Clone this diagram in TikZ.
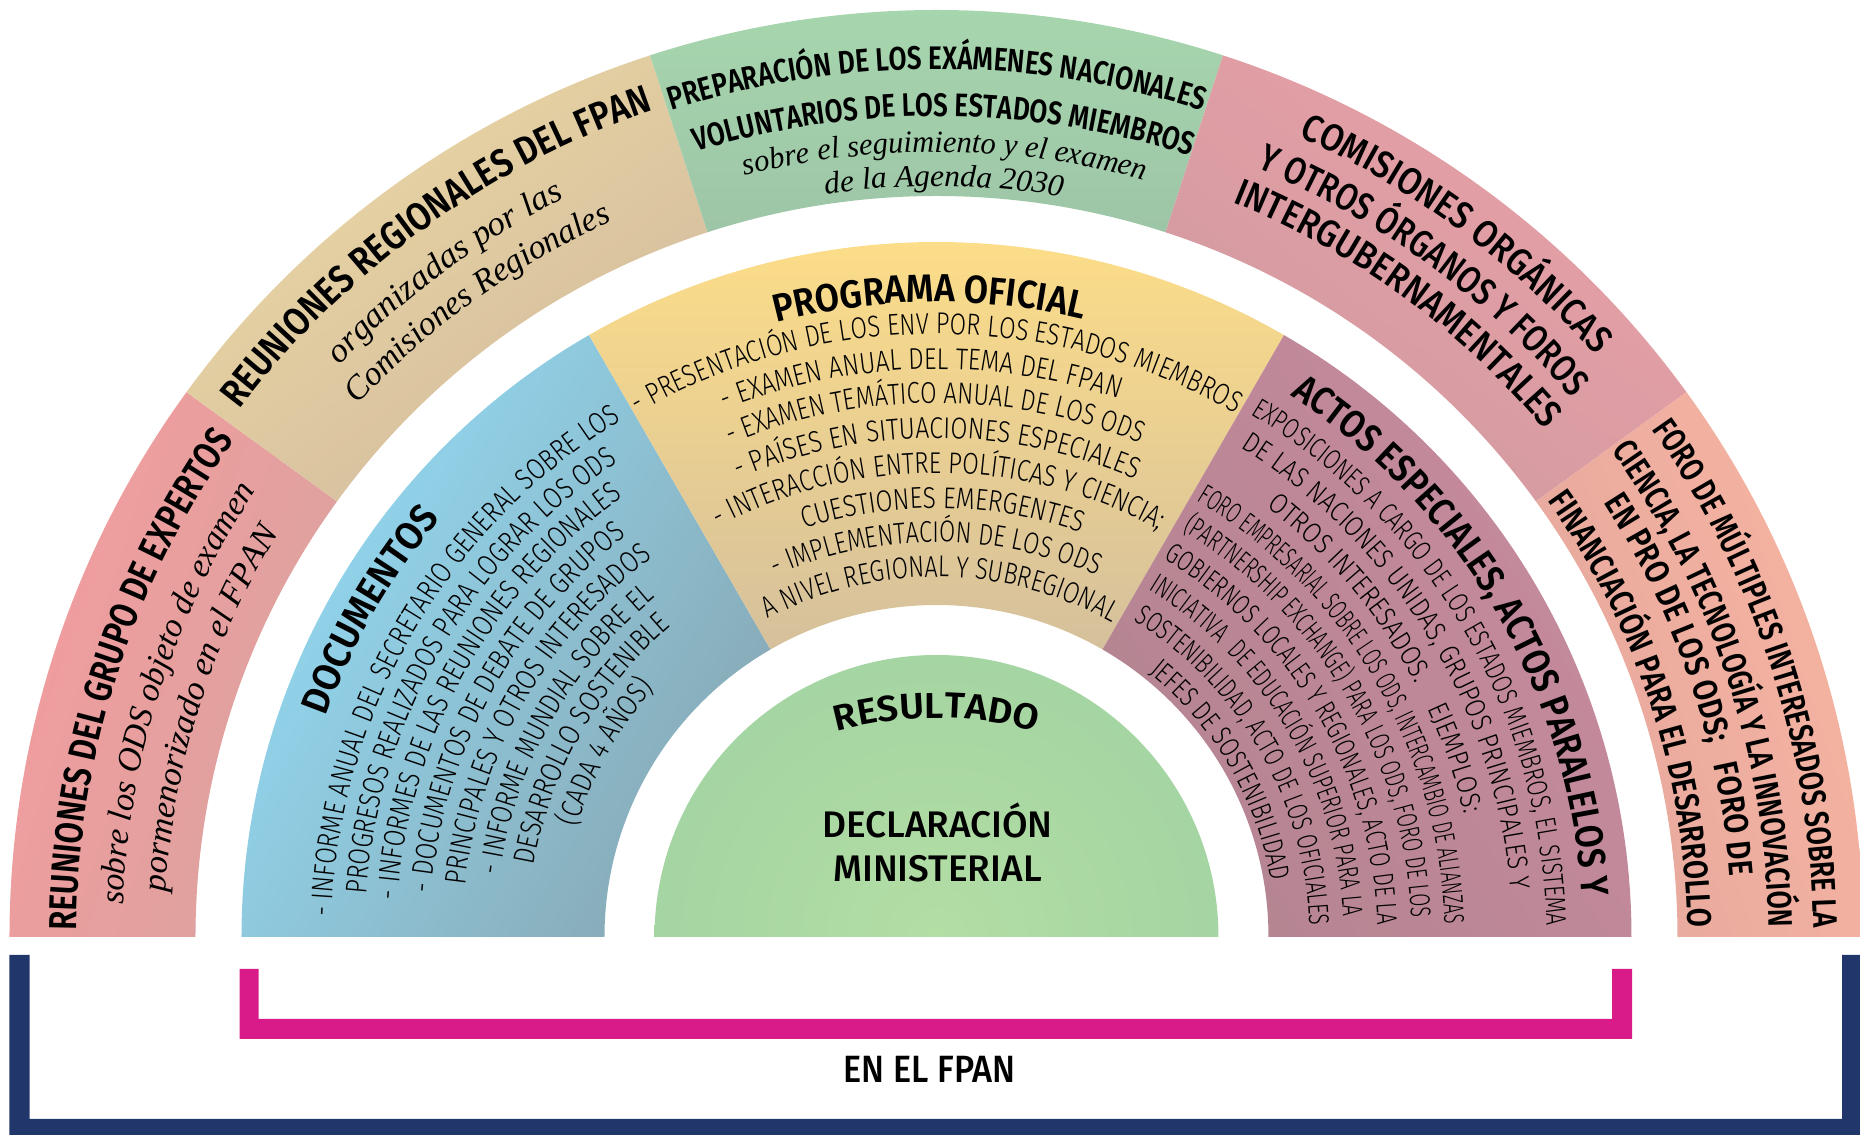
\documentclass[tikz,border=0pt]{standalone}
\usepackage{fontspec}
\usetikzlibrary{decorations.text}

% fonts
\newfontfamily\serifit{Liberation Serif}
\IfFontExistsTF{Fira Sans SemiBold}
  {\newfontfamily\headfont{Fira Sans SemiBold}}
  {\newfontfamily\headfontbase{Fira Sans}\newcommand\headfont{\headfontbase\bfseries}}
\IfFontExistsTF{Fira Sans Light}
  {\newfontfamily\bodyfont{Fira Sans Light}}
  {\newfontfamily\bodyfont{Fira Sans}}
\IfFontExistsTF{Fira Sans Medium}
  {\newfontfamily\medfont{Fira Sans Medium}}
  {\newfontfamily\medfont{Fira Sans}}

% colours
\definecolor{redout}{HTML}{F49C9D}
\definecolor{redin}{HTML}{D9A3A0}
\definecolor{beigeout}{HTML}{EBD8A3}
\definecolor{beigein}{HTML}{D3BB9F}
\definecolor{greenout}{HTML}{A7D7AE}
\definecolor{greenin}{HTML}{9DC5A7}
\definecolor{pinkout}{HTML}{EA9FA7}
\definecolor{pinkin}{HTML}{CF9BA0}
\definecolor{salmonout}{HTML}{F7B4A0}
\definecolor{salmonin}{HTML}{E5A89F}
\definecolor{blueout}{HTML}{92DBF5}
\definecolor{bluein}{HTML}{88A9B5}
\definecolor{yellowout}{HTML}{FFDF87}
\definecolor{yellowin}{HTML}{D5C09C}
\definecolor{mauveout}{HTML}{C78B9E}
\definecolor{mauvein}{HTML}{B48491}
\definecolor{coreout}{HTML}{95CAA1}
\definecolor{corein}{HTML}{B3DEA4}
\definecolor{navy}{HTML}{21376B}
\definecolor{fpanpink}{HTML}{D91B8A}

% text formats
\newcommand\ringtitle{\headfont\fontsize{19.5}{20}\selectfont}
\newcommand\ringnote{\serifit\itshape\fontsize{17}{18}\selectfont}
\newcommand\vnetitle{\headfont\fontsize{16.3}{17}\selectfont}
\newcommand\vnenote{\serifit\itshape\fontsize{15.5}{16}\selectfont}
\newcommand\organfmt{\medfont\fontsize{19}{20}\selectfont}
\newcommand\forumfmt{\headfont\fontsize{17}{18}\selectfont}
\newcommand\bodytitle{\headfont\fontsize{19.5}{20}\selectfont}
\newcommand\bodyitem{\bodyfont\fontsize{15}{16}\selectfont}
\newcommand\sideitem{\bodyfont\fontsize{14.3}{15}\selectfont}

% text bent on an arc round the origin: from angle, to angle, radius, format, text
\newdimen\bentwd
\newcommand{\bentline}[5]{%
  \pgfinterruptpicture\global\setbox1=\hbox{#4#5}\endpgfinterruptpicture
  \bentwd=\wd1
  \pgfmathsetmacro\bentfit{(#1-#2)*0.00872665*#3/\the\bentwd}%
  \pgfmathsetmacro\bentfrom{(#1+#2)/2+40}%
  \pgfmathsetmacro\bentto{(#1+#2)/2-40}%
  \path[decorate, decoration={text along path, text align=center,
      text={|#4\addfontfeature{FakeStretch=\bentfit}|#5}}]
    (\bentfrom:#3) arc[start angle=\bentfrom, end angle=\bentto, radius=#3];%
}

\begin{document}
\begin{tikzpicture}[x=0.5pt, y=0.5pt]
  \useasboundingbox (-936.5,-198) rectangle (923.5,937);

  % Draw the ring segments
  \foreach \a/\b/\ri/\ro/\co/\ci in {180/144/741/927/redout/redin,
      144/108/741/927/beigeout/beigein, 108/72/741/927/greenout/greenin,
      72/36/741/927/pinkout/pinkin, 36/0/741/927/salmonout/salmonin,
      180/120/332/695/blueout/bluein, 120/60/332/695/yellowout/yellowin,
      60/0/332/695/mauveout/mauvein} {
    \pgfmathsetmacro\shang{(\a+\b)/2-90}
    \path[top color=\co, bottom color=\ci, shading angle=\shang]
      (\a:\ro) arc[start angle=\a, end angle=\b, radius=\ro]
      -- (\b:\ri) arc[start angle=\b, end angle=\a, radius=\ri] -- cycle;
  }

  % Draw the inner half disc
  \begin{scope}
    \clip (0:282) arc[start angle=0, end angle=180, radius=282] -- cycle;
    \shade[inner color=corein, outer color=coreout] (0,0) circle[radius=600];
  \end{scope}

  % Outer ring texts
  \bentline{179.5}{144.8}{860}{\ringtitle}{REUNIONES DEL GRUPO DE EXPERTOS}
  \bentline{177.7}{146.8}{814}{\ringnote}{sobre los ODS objeto de examen}
  \bentline{176.5}{148.6}{772}{\ringnote}{pormenorizado en el FPAN}

  \bentline{142.8}{109}{874}{\ringtitle}{REUNIONES REGIONALES DEL FPAN}
  \bentline{136.2}{116.8}{827}{\ringnote}{organizadas por las}
  \bentline{137.4}{114.4}{786}{\ringnote}{Comisiones Regionales}

  \bentline{107.65}{72.3}{868}{\vnetitle}{PREPARACIÓN DE LOS EXÁMENES NACIONALES}
  \bentline{106.8}{72.2}{821}{\vnetitle}{VOLUNTARIOS DE LOS ESTADOS MIEMBROS}
  \bentline{104.1}{74.7}{785}{\vnenote}{sobre el seguimiento y el examen}
  \bentline{98.5}{80.4}{751}{\vnenote}{de la Agenda 2030}

  \bentline{65.6}{41.5}{879}{\organfmt}{COMISIONES ORGÁNICAS}
  \bentline{67.3}{40.4}{833}{\organfmt}{Y OTROS ÓRGANOS Y FOROS}
  \bentline{68}{39.9}{792}{\organfmt}{INTERGUBERNAMENTALES}

  \bentline{35.25}{0.76}{877}{\forumfmt}{FORO DE MÚLTIPLES INTERESADOS SOBRE LA}
  \bentline{35.7}{0.8}{832}{\forumfmt}{CIENCIA, LA TECNOLOGÍA Y LA INNOVACIÓN}
  \bentline{33}{4.5}{796}{\forumfmt}{EN PRO DE LOS ODS;{\ \ \ }FORO DE}
  \bentline{35.4}{0.9}{751}{\forumfmt}{FINANCIACIÓN PARA EL DESARROLLO}

  % Middle ring texts
  \bentline{160.1}{139.9}{649}{\bodytitle}{DOCUMENTOS}
  \bentline{177.9}{121.6}{605}{\bodyitem}{- INFORME ANUAL DEL SECRETARIO GENERAL SOBRE LOS}
  \bentline{175.5}{124.1}{572}{\bodyitem}{PROGRESOS REALIZADOS PARA LOGRAR LOS ODS}
  \bentline{176}{125.6}{540}{\bodyitem}{- INFORMES DE LAS REUNIONES REGIONALES}
  \bentline{174.9}{127.9}{507}{\bodyitem}{- DOCUMENTOS DE DEBATE DE GRUPOS}
  \bentline{173.6}{127}{474}{\bodyitem}{PRINCIPALES Y OTROS INTERESADOS}
  \bentline{172}{129.7}{441}{\bodyitem}{- INFORME MUNDIAL SOBRE EL}
  \bentline{169.8}{130.7}{409}{\bodyitem}{DESARROLLO SOSTENIBLE}
  \bentline{163}{138.6}{376}{\bodyitem}{(CADA 4 AÑOS)}

  \bentline{104.6}{76.7}{635}{\bodytitle}{PROGRAMA OFICIAL}
  \bentline{119.4}{60.6}{603}{\bodyitem}{- PRESENTACIÓN DE LOS ENV POR LOS ESTADOS MIEMBROS}
  \bentline{111.8}{71.4}{568}{\bodyitem}{- EXAMEN ANUAL DEL TEMA DEL FPAN}
  \bentline{112.5}{67.75}{534}{\bodyitem}{- EXAMEN TEMÁTICO ANUAL DE LOS ODS}
  \bentline{113.2}{66.7}{499}{\bodyitem}{- PAÍSES EN SITUACIONES ESPECIALES}
  \bentline{118}{61.4}{464}{\bodyitem}{- INTERACCIÓN ENTRE POLÍTICAS Y CIENCIA;}
  \bentline{107.8}{70.5}{429}{\bodyitem}{CUESTIONES EMERGENTES}
  \bentline{113.8}{66.3}{395}{\bodyitem}{- IMPLEMENTACIÓN DE LOS ODS}
  \bentline{117.9}{60.9}{360}{\bodyitem}{A NIVEL REGIONAL Y SUBREGIONAL}

  \bentline{56.5}{4}{647}{\bodytitle}{ACTOS ESPECIALES, ACTOS PARALELOS Y}
  \bentline{58.8}{1.3}{610}{\sideitem}{EXPOSICIONES A CARGO DE LOS ESTADOS MIEMBROS, EL SISTEMA}
  \bentline{58}{4.9}{576}{\sideitem}{DE LAS NACIONES UNIDAS, GRUPOS PRINCIPALES Y}
  \bentline{52.4}{13.3}{542}{\sideitem}{OTROS INTERESADOS.{\ \ \ \ }EJEMPLOS:}
  \bentline{59.1}{1.6}{508}{\sideitem}{FORO EMPRESARIAL SOBRE LOS ODS, INTERCAMBIO DE ALIANZAS}
  \bentline{58.5}{2.7}{475}{\sideitem}{(PARTNERSHIP EXCHANGE) PARA LOS ODS, FORO DE LOS}
  \bentline{58.8}{1.8}{441}{\sideitem}{GOBIERNOS LOCALES Y REGIONALES, ACTO DE LA}
  \bentline{58.4}{3.1}{407}{\sideitem}{INICIATIVA{\ \ }DE EDUCACIÓN SUPERIOR PARA LA}
  \bentline{57.8}{2.1}{373}{\sideitem}{SOSTENIBILIDAD, ACTO DE LOS OFICIALES}
  \bentline{51.1}{9.5}{339}{\sideitem}{JEFES DE SOSTENIBILIDAD}

  % Inner half disc texts
  \begin{scope}[shift={(0,-161)}]
    \bentline{104.8}{75.2}{380}{\headfont\fontsize{18}{18}\selectfont}{RESULTADO}
  \end{scope}
  \node[inner sep=0, anchor=base, font=\medfont\fontsize{18.5}{20}\selectfont] (decl) at (1,99) {DECLARACIÓN};
  \node[inner sep=0, anchor=base, font=\medfont\fontsize{18.5}{20}\selectfont] (mini) at (1,55.5) {MINISTERIAL};

  % Draw the brackets
  \fill[navy] (-927,-18) -- (-927,-198) -- (923.5,-198) -- (923.5,-18) -- (905.5,-18)
    -- (905.5,-182) -- (-906.8,-182) -- (-906.8,-18) -- cycle;
  \fill[fpanpink] (-696.9,-32) -- (-696.9,-102) -- (695.5,-102) -- (695.5,-32) -- (675.5,-32)
    -- (675.5,-82) -- (-677.9,-82) -- (-677.9,-32) -- cycle;
  \node[inner sep=0, anchor=base, font=\medfont\fontsize{19}{20}\selectfont\addfontfeature{FakeStretch=0.9}] (fpan) at (-7,-146) {EN EL FPAN};

\end{tikzpicture}
\end{document}
